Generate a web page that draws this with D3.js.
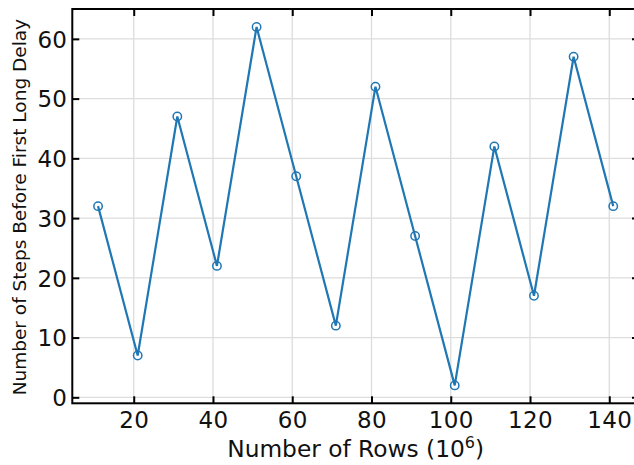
<!DOCTYPE html>
<html><head><meta charset="utf-8">
<script src="https://cdn.jsdelivr.net/npm/d3@7"></script>
<style>body{margin:0;background:#fff}svg{display:block}text{font-family:"DejaVu Sans",sans-serif}</style>
</head><body>
<svg id="c" width="634" height="465"></svg>
<script>
const rows = [11,21,31,41,51,61,71,81,91,101,111,121,131,141];
const steps = [32,7,47,22,62,37,12,52,27,2,42,17,57,32];
const xTicks = [20,40,60,80,100,120,140];
const yTicks = [0,10,20,30,40,50,60];
const xLabel = "Number of Rows (10";
const yLabel = "Number of Steps Before First Long Delay";

const svg = d3.select("#c");
const L = 72.3, R = 639, T = 9, B = 403.3;
const x = d3.scaleLinear().domain([4.5,147.5]).range([L,R]);
const y = d3.scaleLinear().domain([-1,65]).range([B,T]);
const color = "#1f77b4";

// grid
svg.append("g").selectAll("line").data(xTicks).join("line")
  .attr("x1",d=>x(d)).attr("x2",d=>x(d)).attr("y1",T).attr("y2",B)
  .attr("stroke","#dddddd").attr("stroke-width",1.3);
svg.append("g").selectAll("line").data(yTicks).join("line")
  .attr("y1",d=>y(d)).attr("y2",d=>y(d)).attr("x1",L).attr("x2",R)
  .attr("stroke","#dddddd").attr("stroke-width",1.3);

// axes with inward ticks
const tl = 7;
const ax = svg.append("g").attr("transform",`translate(0,${B})`)
  .call(d3.axisBottom(x).tickValues(xTicks).tickSizeInner(-tl).tickSizeOuter(0).tickPadding(8));
const axT = svg.append("g").attr("transform",`translate(0,${T})`)
  .call(d3.axisTop(x).tickValues(xTicks).tickSizeInner(-tl).tickSizeOuter(0).tickFormat(""));
const ay = svg.append("g").attr("transform",`translate(${L},0)`)
  .call(d3.axisLeft(y).tickValues(yTicks).tickSizeInner(-tl).tickSizeOuter(0).tickPadding(5));
const ayR = svg.append("g").attr("transform",`translate(${R},0)`)
  .call(d3.axisRight(y).tickValues(yTicks).tickSizeInner(-tl).tickSizeOuter(0).tickFormat(""));
[ax,axT,ay,ayR].forEach(g=>{
  g.select(".domain").remove();
  g.selectAll(".tick line").attr("stroke","#000").attr("stroke-width",2);
  g.selectAll("text").attr("font-size",23).attr("letter-spacing",0.3).attr("fill","#111").attr("font-family","DejaVu Sans");
});
ax.selectAll("text").attr("dy","0.71em");
ay.selectAll("text").attr("dy","0.36em");

// spines
svg.append("rect").attr("x",L).attr("y",T).attr("width",R-L).attr("height",B-T)
  .attr("fill","none").attr("stroke","#000").attr("stroke-width",2);

// line & markers
svg.append("path").datum(rows.map((r,i)=>[r,steps[i]]))
  .attr("d",d3.line().x(d=>x(d[0])).y(d=>y(d[1])))
  .attr("fill","none").attr("stroke",color).attr("stroke-width",2.2);
svg.append("g").selectAll("circle").data(rows.map((r,i)=>[r,steps[i]])).join("circle")
  .attr("cx",d=>x(d[0])).attr("cy",d=>y(d[1])).attr("r",4.2)
  .attr("fill","none").attr("stroke",color).attr("stroke-width",1.5);

// labels
const xl = svg.append("text").attr("x",(L+R)/2).attr("y",457).attr("text-anchor","middle")
  .attr("font-size",23.3).attr("fill","#111");
xl.append("tspan").text(xLabel);
xl.append("tspan").text("6").attr("font-size",16).attr("dy",-9);
xl.append("tspan").text(")").attr("dy",9);
svg.append("text").attr("transform",`translate(26,${(T+B)/2 + 1}) rotate(-90)`)
  .attr("text-anchor","middle").attr("font-size",18.5).attr("fill","#111").text(yLabel);
</script>
</body></html>
